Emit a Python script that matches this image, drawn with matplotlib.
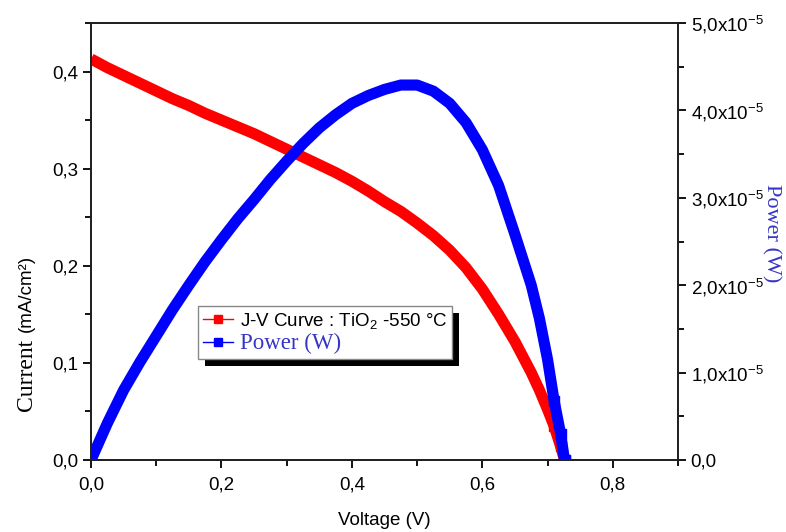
import matplotlib.pyplot as plt
from matplotlib.lines import Line2D
from matplotlib.patches import Rectangle
from matplotlib.ticker import MultipleLocator, FuncFormatter
from matplotlib.transforms import IdentityTransform

plt.rcParams["font.family"] = ["Liberation Sans", "DejaVu Sans"]
plt.rcParams["mathtext.fontset"] = "custom"
plt.rcParams["mathtext.rm"] = "Liberation Sans"
plt.rcParams["mathtext.it"] = "Liberation Sans:italic"


# =====================================================
# DATA
# =====================================================

voltage = [0.000, 0.025, 0.050, 0.075, 0.100, 0.125, 0.150, 0.175, 0.200, 0.225,
           0.250, 0.275, 0.300, 0.325, 0.350, 0.375, 0.400, 0.425, 0.450, 0.475,
           0.500, 0.525, 0.550, 0.575, 0.600, 0.625, 0.650, 0.675, 0.6875, 0.700,
           0.710, 0.720, 0.726]

current = [0.413, 0.404, 0.396, 0.388, 0.380, 0.372, 0.365, 0.357, 0.350, 0.343,
           0.336, 0.328, 0.320, 0.312, 0.304, 0.296, 0.287, 0.277, 0.266, 0.256,
           0.244, 0.231, 0.216, 0.198, 0.176, 0.150, 0.122, 0.090, 0.072, 0.052,
           0.035, 0.014, 0.000]

power = [0.00e-5, 0.42e-5, 0.80e-5, 1.12e-5, 1.42e-5, 1.72e-5, 2.00e-5, 2.27e-5, 2.52e-5, 2.76e-5,
         2.98e-5, 3.21e-5, 3.42e-5, 3.62e-5, 3.80e-5, 3.95e-5, 4.08e-5, 4.17e-5, 4.24e-5, 4.29e-5,
         4.29e-5, 4.22e-5, 4.08e-5, 3.86e-5, 3.55e-5, 3.14e-5, 2.58e-5, 2.00e-5, 1.62e-5, 1.15e-5,
         0.68e-5, 0.30e-5, 0.00e-5]

jv_label = "J-V Curve : TiO$_2$ -550 °C"
power_label = "Power (W)"


# =====================================================
# FIGURE
# =====================================================

fig = plt.figure(figsize=(7.86, 5.32), dpi=100)
ax = fig.add_axes([0.1158, 0.1353, 0.7468, 0.8215])
ax2 = ax.twinx()

# squares only visible near Voc, where the points spread apart
tail = list(range(len(voltage) - 3, len(voltage)))

ax.plot(voltage, current, color="#ff0000", lw=8,
        marker="s", ms=7, mec="#ff0000", mfc="#ff0000",
        markevery=tail, solid_joinstyle="round", solid_capstyle="butt")
ax2.plot(voltage, power, color="#0000ff", lw=8,
         marker="s", ms=7, mec="#0000ff", mfc="#0000ff",
         markevery=tail, solid_joinstyle="round", solid_capstyle="butt")

ax.set_xlim(0, 0.9)
ax.set_ylim(0, 0.45)
ax2.set_ylim(0, 5e-5)

ax.xaxis.set_major_locator(MultipleLocator(0.2))
ax.xaxis.set_minor_locator(MultipleLocator(0.1))
ax.yaxis.set_major_locator(MultipleLocator(0.1))
ax.yaxis.set_minor_locator(MultipleLocator(0.05))
ax2.yaxis.set_major_locator(MultipleLocator(1e-5))
ax2.yaxis.set_minor_locator(MultipleLocator(0.5e-5))

comma = FuncFormatter(lambda v, p: f"{v:.1f}".replace(".", ","))
ax.xaxis.set_major_formatter(comma)
ax.yaxis.set_major_formatter(comma)


def power_fmt(v, p):
    if abs(v) < 1e-12:
        return "0,0"
    return f"{v / 1e-5:.1f}".replace(".", ",") + r"x10$^{\mathregular{-5}}$"


ax2.yaxis.set_major_formatter(FuncFormatter(power_fmt))

for a in (ax, ax2):
    a.tick_params(which="major", direction="out", length=6, width=1.3,
                  labelsize=13.5, pad=3)
    a.tick_params(which="minor", direction="out", length=4, width=1.3)
    for s in a.spines.values():
        s.set_linewidth(1.4)
        s.set_color("#222222")
ax.tick_params(top=False, which="both")
ax.tick_params(axis="x", pad=6)
ax2.tick_params(top=False, which="both")

ax.set_xlabel("Voltage (V)", fontsize=13.5, labelpad=13)

# left label: serif word plus sans units
ax.text(-0.11, 0.112, "Current", rotation=90, ha="center", va="bottom",
        fontsize=17, family="Liberation Serif", transform=ax.transAxes)
ax.text(-0.11, 0.292, "(mA/cm²)", rotation=90, ha="center", va="bottom",
        fontsize=13.5, transform=ax.transAxes)

ax2.set_ylabel("Power (W)", rotation=-90, color="#3535c8", fontsize=16,
               family="Liberation Serif")
ax2.yaxis.set_label_coords(1.175, 0.52)


# =====================================================
# LEGEND
# =====================================================

handles = [
    Line2D([], [], color="#ff0000", lw=1.0, marker="s", ms=6),
    Line2D([], [], color="#0000ff", lw=1.0, marker="s", ms=6),
]

leg = ax2.legend(handles, [jv_label, power_label], numpoints=1,
                 loc="upper left", bbox_to_anchor=(0.182, 0.352),
                 borderaxespad=0,
                 fancybox=False, edgecolor="#888888", framealpha=1,
                 handlelength=1.6, handletextpad=0.4, borderpad=0.25,
                 labelspacing=0.1, fontsize=13.5)
leg.get_frame().set_linewidth(1.0)
txts = leg.get_texts()
txts[1].set_color("#3535c8")
txts[1].set_fontfamily("Liberation Serif")
txts[1].set_fontsize(16.5)
leg.set_zorder(6)

fig.canvas.draw()
bb = leg.get_window_extent()
shadow = Rectangle((bb.x0 + 7, bb.y0 - 7), bb.width, bb.height,
                   facecolor="black", edgecolor="none",
                   transform=IdentityTransform(), zorder=5.5)
ax2.add_artist(shadow)

fig.savefig("out.png", dpi=100)
